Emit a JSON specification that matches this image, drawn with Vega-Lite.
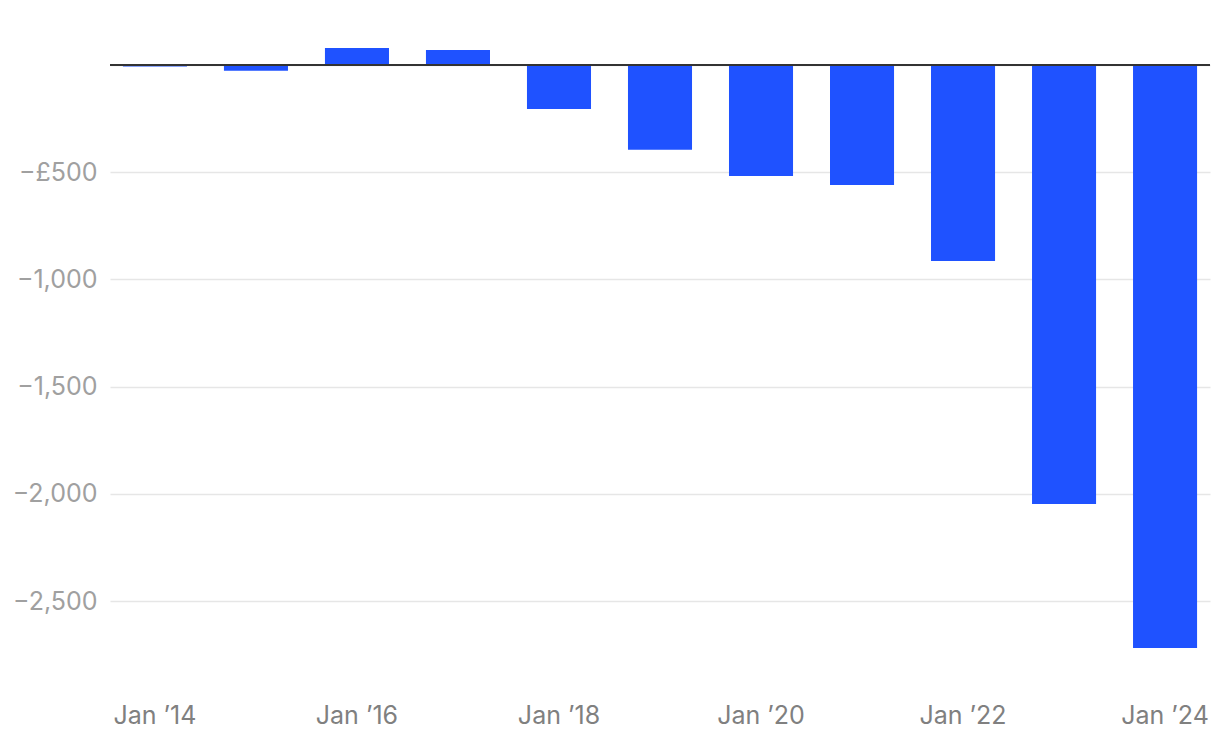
{
  "$schema": "https://vega.github.io/schema/vega-lite/v6.json",
  "width": 1100,
  "height": 665,
  "autosize": "none",
  "padding": {"left": 110, "top": 22, "right": 10, "bottom": 55},
  "background": "white",
  "config": {"view": {"stroke": null}, "font": "Inter"},
  "data": {"values": [
    {"year": 2014, "value": -8},
    {"year": 2015, "value": -27},
    {"year": 2016, "value": 79},
    {"year": 2017, "value": 70},
    {"year": 2018, "value": -205},
    {"year": 2019, "value": -396},
    {"year": 2020, "value": -518},
    {"year": 2021, "value": -560},
    {"year": 2022, "value": -914},
    {"year": 2023, "value": -2047},
    {"year": 2024, "value": -2718}
  ]},
  "layer": [
    {
      "mark": {"type": "bar", "color": "#1F52FF"},
      "encoding": {
        "x": {
          "field": "year", "type": "ordinal", "title": null,
          "scale": {"paddingInner": 0.366, "paddingOuter": 0.128},
          "axis": {
            "domain": false, "ticks": false, "labelAngle": 0,
            "labelFontSize": 25, "labelColor": "#808080", "labelPadding": 16,
            "labelExpr": "datum.value % 2 == 0 ? 'Jan ’' + substring(toString(datum.value), 2) : ''"
          }
        },
        "y": {
          "field": "value", "type": "quantitative", "title": null,
          "scale": {"domain": [-2900, 200], "nice": false},
          "axis": {
            "values": [-2500, -2000, -1500, -1000, -500, 0],
            "domain": false, "ticks": false, "grid": true,
            "gridColor": "#e6e6e6", "gridWidth": 1.5,
            "labelFontSize": 25, "labelColor": "#a0a0a0", "labelPadding": 13,
            "labelExpr": "datum.value == 0 ? '' : (datum.value == -500 ? '−£500' : '−' + format(-datum.value, ','))"
          }
        }
      }
    },
    {
      "mark": {"type": "rule", "color": "#333333", "strokeWidth": 2},
      "encoding": {"y": {"datum": 0}}
    }
  ]
}
